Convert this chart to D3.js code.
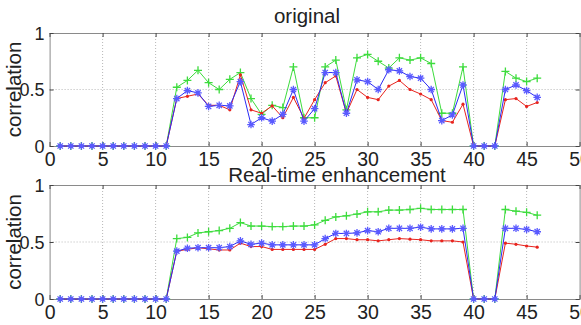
<!DOCTYPE html>
<html>
<head>
<meta charset="utf-8">
<script src="https://cdn.jsdelivr.net/npm/d3@7"></script>
<style>
  body { margin: 0; background: #fff; }
  svg { display: block; font-family: "Liberation Sans", Arial, sans-serif; }
</style>
</head>
<body>
<script>
// x index 1..46
var xs = [1,2,3,4,5,6,7,8,9,10,11,12,13,14,15,16,17,18,19,20,21,22,23,24,25,26,27,28,29,30,
  31,32,33,34,35,36,37,38,39,40,41,42,43,44,45,46]

var xTicks = [0,5,10,15,20,25,30,35,40,45,50]
var yTicks = [0,0.5,1]

// panel 1 : original
var origGreen = [0,0,0,0,0,0,0,0,0,0,0,
  0.52,0.58,0.67,0.56,0.50,0.59,0.65,0.42,0.28,0.36,0.34,0.70,0.25,0.25,0.70,0.76,0.32,0.78,0.81,
  0.75,0.69,0.78,0.76,0.78,0.73,0.29,0.29,0.70,0,0,0,0.66,0.60,0.57,0.60]
var origRed = [0,0,0,0,0,0,0,0,0,0,0,
  0.42,0.44,0.46,0.36,0.36,0.32,0.63,0.32,0.29,0.355,0.25,0.43,0.245,0.41,0.56,0.62,0.29,0.50,0.43,
  0.41,0.53,0.58,0.50,0.46,0.41,0.225,0.21,0.37,0,0,0,0.41,0.42,0.35,0.385]
var origBlue = [0,0,0,0,0,0,0,0,0,0,0,
  0.42,0.49,0.47,0.35,0.36,0.355,0.57,0.19,0.25,0.22,0.28,0.50,0.22,0.33,0.65,0.65,0.29,0.585,0.57,
  0.50,0.675,0.665,0.615,0.60,0.50,0.225,0.275,0.54,0,0,0,0.50,0.54,0.49,0.43]

// panel 2 : real-time enhancement
var rtGreen = [0,0,0,0,0,0,0,0,0,0,0,
  0.53,0.54,0.58,0.59,0.60,0.62,0.67,0.64,0.64,0.635,0.635,0.64,0.64,0.65,0.69,0.72,0.73,0.745,0.765,
  0.765,0.78,0.78,0.785,0.795,0.785,0.785,0.785,0.785,0,0,0,0.785,0.77,0.76,0.735]
var rtRed = [0,0,0,0,0,0,0,0,0,0,0,
  0.42,0.435,0.45,0.44,0.43,0.43,0.49,0.46,0.46,0.435,0.435,0.435,0.435,0.435,0.48,0.53,0.53,0.52,0.52,
  0.51,0.52,0.53,0.525,0.52,0.51,0.51,0.51,0.50,0,0,0,0.49,0.48,0.465,0.455]
var rtBlue = [0,0,0,0,0,0,0,0,0,0,0,
  0.42,0.445,0.45,0.45,0.45,0.46,0.51,0.48,0.49,0.475,0.475,0.475,0.475,0.475,0.53,0.575,0.575,0.58,0.60,
  0.59,0.62,0.62,0.62,0.63,0.615,0.615,0.615,0.62,0,0,0,0.62,0.62,0.61,0.59]

var W = 581, H = 325
var left = 49.6, right = 579.6

var svg = d3.select('body').append('svg')
  .attr('width', W)
  .attr('height', H)

var x = d3.scaleLinear().domain([0, 50]).range([left, right])

function star(s) {
  var d = s * 0.7
  return 'M' + (-s) + ',0L' + s + ',0M0,' + (-s) + 'L0,' + s +
    'M' + (-d) + ',' + (-d) + 'L' + d + ',' + d + 'M' + (-d) + ',' + d + 'L' + d + ',' + (-d)
}
function plus(s) {
  return 'M' + (-s) + ',0L' + s + ',0M0,' + (-s) + 'L0,' + s
}

function panel(top, bottom, title, titleX, titleY, green, red, blue) {
  var y = d3.scaleLinear().domain([0, 1]).range([bottom, top])
  var g = svg.append('g')

  // grid
  g.selectAll('line.gx')
    .data(xTicks.slice(1, -1))
    .enter()
    .append('line')
    .attr('x1', function (d) { return x(d) })
    .attr('x2', function (d) { return x(d) })
    .attr('y1', top)
    .attr('y2', bottom)
    .attr('stroke', '#b8b8b8')
    .attr('stroke-dasharray', '1,2')
  g.append('line')
    .attr('x1', left).attr('x2', right)
    .attr('y1', y(0.5)).attr('y2', y(0.5))
    .attr('stroke', '#b8b8b8')
    .attr('stroke-dasharray', '1,2')

  // axes
  var xa = g.append('g')
    .attr('transform', 'translate(0,' + bottom + ')')
    .call(d3.axisBottom(x).tickValues(xTicks).tickSize(-4).tickPadding(6).tickFormat(d3.format('d')))
  var xt = g.append('g')
    .attr('transform', 'translate(0,' + top + ')')
    .call(d3.axisTop(x).tickValues(xTicks).tickSize(-4).tickFormat(''))
  var ya = g.append('g')
    .attr('transform', 'translate(' + left + ',0)')
    .call(d3.axisLeft(y).tickValues(yTicks).tickSize(-4).tickPadding(5).tickFormat(function (d) { return d === 0.5 ? '0.5' : d }))
  var yr = g.append('g')
    .attr('transform', 'translate(' + right + ',0)')
    .call(d3.axisRight(y).tickValues(yTicks).tickSize(-4).tickFormat(''))

  ;[xa, xt, ya, yr].forEach(function (a) {
    a.select('.domain').attr('stroke', '#8a8a8a')
    a.selectAll('.tick line').attr('stroke', '#444')
    a.selectAll('text')
      .attr('font-size', 18)
      .attr('font-family', '"Liberation Sans", Arial, sans-serif')
      .attr('fill', '#222')
  })
  xa.selectAll('text').attr('dy', '0.71em').attr('font-size', 19.5)
  ya.selectAll('text').attr('dy', '0.36em')

  // y label
  g.append('text')
    .attr('transform', 'translate(21,' + ((top + bottom) / 2) + ') rotate(-90)')
    .attr('text-anchor', 'middle')
    .attr('font-size', 20.5)
    .attr('fill', '#222')
    .text('correlation')

  // title
  g.append('text')
    .attr('x', titleX)
    .attr('y', titleY)
    .attr('text-anchor', 'middle')
    .attr('font-size', 20.5)
    .attr('fill', '#222')
    .text(title)

  var series = [
    {vals: green, color: '#3ddc3d', mark: 'plus'},
    {vals: red, color: '#e8241e', mark: 'dot'},
    {vals: blue, color: '#2b2bf5', mark: 'star'}
  ]

  var line = d3.line()
    .x(function (d) { return x(d[0]) })
    .y(function (d) { return y(d[1]) })

  series.forEach(function (s) {
    var pts = xs.map(function (v, i) { return [v, s.vals[i]] })
    g.append('path')
      .datum(pts)
      .attr('d', line)
      .attr('fill', 'none')
      .attr('stroke', s.color)
      .attr('stroke-width', 1)

    var m = g.selectAll('path.m' + s.mark)
      .data(pts)
      .enter()
    if (s.mark === 'dot') {
      m.append('circle')
        .attr('cx', function (d) { return x(d[0]) })
        .attr('cy', function (d) { return y(d[1]) })
        .attr('r', 1.6)
        .attr('fill', s.color)
    } else {
      m.append('path')
        .attr('transform', function (d) { return 'translate(' + x(d[0]) + ',' + y(d[1]) + ')' })
        .attr('d', s.mark === 'star' ? star(3.8) : plus(4))
        .attr('fill', 'none')
        .attr('stroke', s.mark === 'star' ? '#5a5aff' : s.color)
        .attr('stroke-width', 1.3)
    }
  })
}

panel(33, 146, 'original', 307, 23, origGreen, origRed, origBlue)
panel(185, 299, 'Real-time enhancement', 337, 182, rtGreen, rtRed, rtBlue)
</script>
</body>
</html>
